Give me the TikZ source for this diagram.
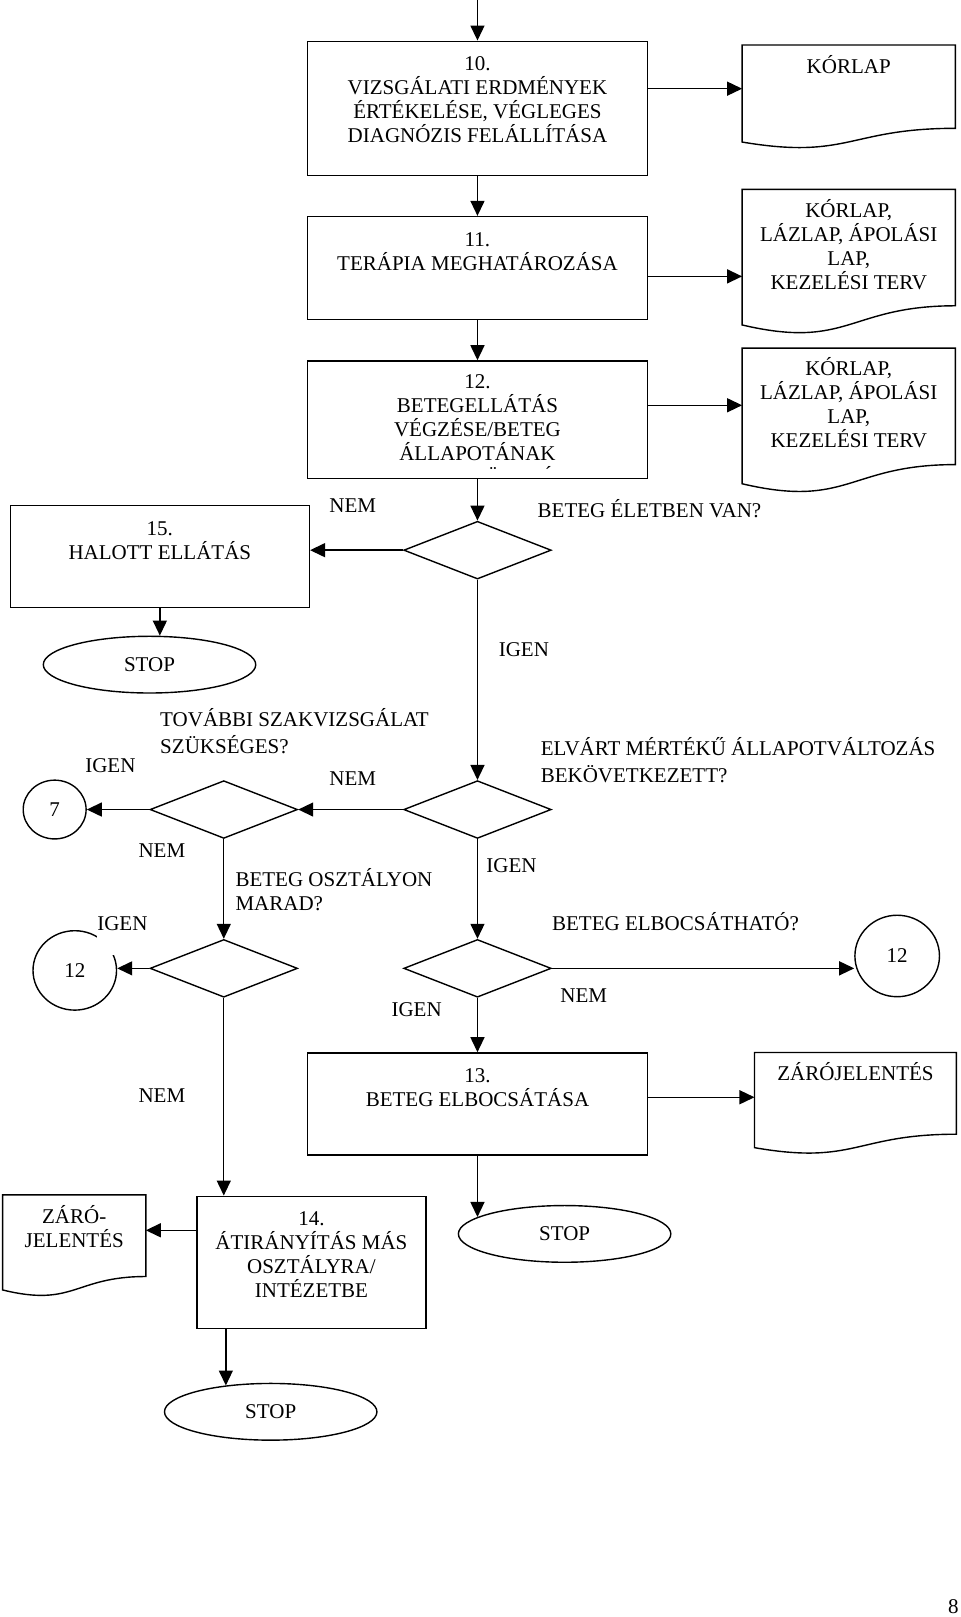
\documentclass[tikz,border=0pt]{standalone}
\usepackage{fontspec}
\setmainfont{Liberation Serif}
\usetikzlibrary{arrows.meta,shapes.geometric,positioning,fit,calc}

\newcommand{\pxu}{0.5156pt}
\newcommand{\docoutline}[1]{%
  \draw[flowline] (#1.north west) -- (#1.north east)
    -- ($(#1.north east)!0.802!(#1.south east)$)
    .. controls ($(#1.north)!0.802!(#1.south)$) and ($(#1.north)!1.107!(#1.south)$)
    .. ($(#1.north west)!0.934!(#1.south west)$) -- cycle;}

\tikzset{
  flowline/.style={line width=0.7pt},
  arr/.style={flowline, -{Triangle[length=7.5pt,width=7pt]}},
  proc/.style={draw, flowline, inner sep=0pt},
  docu/.style={inner sep=0pt},
  decision/.style={diamond, draw, flowline, inner sep=0pt, minimum width=143*\pxu, minimum height=56*\pxu},
  terminal/.style={ellipse, draw, flowline, inner sep=0pt, minimum width=206*\pxu, minimum height=55*\pxu},
  connector/.style={ellipse, draw, flowline, inner sep=0pt},
  boxtext/.style={align=center, inner sep=0pt},
  lbl/.style={inner sep=0pt, text height=7pt, text depth=0pt},
  qlbl/.style={align=left, inner sep=0pt, anchor=north west},
}

\begin{document}
\begin{tikzpicture}[x=\pxu, y=-\pxu, font=\fontsize{10.5}{12}\selectfont]
\useasboundingbox (0,0) rectangle (931,1568);

% process boxes
\node[proc, fit={(298,40) (628,170)}] (b10) {};
\node[boxtext, below=7.8pt of b10.north] (t10) {10.\\VIZSGÁLATI ERDMÉNYEK\\ÉRTÉKELÉSE, VÉGLEGES\\DIAGNÓZIS FELÁLLÍTÁSA};
\node[proc, fit={(298,210) (628,310)}] (b11) {};
\node[boxtext, below=8.2pt of b11.north] (t11) {11.\\TERÁPIA MEGHATÁROZÁSA};
\node[proc, fit={(298,350) (628,464)}] (b12) {};
\begin{scope}
  \clip (b12.north west) rectangle ([yshift=5.4pt]b12.south east);
  \node[boxtext, below=6.8pt of b12.north] (t12) {12.\\BETEGELLÁTÁS\\VÉGZÉSE/BETEG\\ÁLLAPOTÁNAK\\NYOMONKÖVETÉSE};
\end{scope}
\node[proc, fit={(10,490) (300,589)}] (b15) {};
\node[boxtext, below=8.2pt of b15.north] (t15) {15.\\HALOTT ELLÁTÁS};
\node[proc, fit={(298,1021) (628,1120)}] (b13) {};
\node[boxtext, below=8.2pt of b13.north] (t13) {13.\\BETEG ELBOCSÁTÁSA};
\node[proc, fit={(191,1160) (413,1288)}] (b14) {};
\node[boxtext, below=7.8pt of b14.north] (t14) {14.\\ÁTIRÁNYÍTÁS MÁS\\OSZTÁLYRA/\\INTÉZETBE};

% documents
\node[docu, fit={(720,44) (926,144)}] (d1) {};
\docoutline{d1}
\node[boxtext, below=5.1pt of d1.north] (td1) {KÓRLAP};
\node[docu, fit={(720,184) (926,324)}] (d2) {};
\docoutline{d2}
\node[boxtext, below=5pt of d2.north] (td2) {KÓRLAP,\\LÁZLAP, ÁPOLÁSI\\LAP,\\KEZELÉSI TERV};
\node[docu, fit={(720,338) (926,478)}] (d3) {};
\docoutline{d3}
\node[boxtext, below=4.4pt of d3.north] (td3) {KÓRLAP,\\LÁZLAP, ÁPOLÁSI\\LAP,\\KEZELÉSI TERV};
\node[docu, fit={(732,1021) (927,1119)}] (d5) {};
\docoutline{d5}
\node[boxtext, below=5pt of d5.north] (td5) {ZÁRÓJELENTÉS};
\node[docu, fit={(3,1159) (141,1257)}] (d4) {};
\docoutline{d4}
\node[boxtext, below=5pt of d4.north] (td4) {ZÁRÓ-\\JELENTÉS};

% decisions
\node[decision] (D1) at (463,533.5) {};
\node[decision] (D2) at (463,785) {};
\node[decision] (D3) at (217,785) {};
\node[decision] (D4) at (217,939) {};
\node[decision] (D5) at (463,939) {};

% terminals and connectors
\node[terminal] (stop1) at (145,644.5) {STOP};
\node[terminal] (stop2) at (547.5,1196.5) {STOP};
\node[terminal] (stop3) at (262.5,1369) {STOP};
\node[connector, minimum width=61*\pxu, minimum height=57*\pxu] (c7) at (53,785) {7};
\node[connector, minimum width=81*\pxu, minimum height=77*\pxu] (c12a) at (72.5,941) {12};
\node[connector, minimum width=82*\pxu, minimum height=79*\pxu] (c12b) at (870,927) {12};

% flow
\coordinate (entry) at (463,0);
\draw[arr] (entry) -- (b10);
\draw[arr] (b10) -- (b11);
\draw[arr] (b11) -- (b12);
\draw[arr] (b12) -- (D1);
\draw[arr] (b10.east |- 0,86) -- (d1.west |- 0,86);
\draw[arr] (b11.east |- 0,268) -- (d2.west |- 0,268);
\draw[arr] (b12.east |- 0,393) -- (d3.west |- 0,393);
\draw[arr] (D1) -- (b15.east |- D1);
\draw[arr] (b15.south) -- (b15.south |- stop1.north);
\draw[arr] (D1) -- (D2);
\draw[arr] (D2) -- (D3);
\draw[arr] (D3) -- (c7);
\draw[arr] (D3) -- (D4);
\draw[arr] (D4.west) -- (c12a.east |- D4.west);
\draw[arr] (D2) -- (D5);
\draw[arr] (D5.east) -- (c12b.west |- D5.east);
\draw[arr] (D5) -- (b13);
\draw[arr] (b13.east |- 0,1064) -- (d5.west |- 0,1064);
\draw[arr] (b13) -- (b13 |- stop2.169);
\draw[arr] (D4) -- (D4 |- b14.north);
\draw[arr] (b14.west |- 0,1193) -- (d4.east |- 0,1193);
\draw[arr] (b14.south -| 219,0) -- (stop3.150 -| 219,0);

% labels
\node[lbl] (nem1) at (342,490) {NEM};
\node[lbl, anchor=west] (q1) at (521,495) {BETEG ÉLETBEN VAN?};
\node[lbl] (igen1) at (508,630) {IGEN};
\node[qlbl] (q2) at (155,686.5) {TOVÁBBI SZAKVIZSGÁLAT\\[1.4pt]SZÜKSÉGES?};
\node[lbl] (igen2) at (107,742) {IGEN};
\node[lbl] (nem2) at (342,755) {NEM};
\node[qlbl] (q3) at (524,715) {ELVÁRT MÉRTÉKŰ ÁLLAPOTVÁLTOZÁS\\[1.4pt]BEKÖVETKEZETT?};
\node[lbl] (nem3) at (157,824.5) {NEM};
\node[qlbl] (q4) at (228,841.5) {BETEG OSZTÁLYON\\MARAD?};
\node[lbl, fill=white, text depth=12pt, anchor=base west] (igen3) at (94,902.3) {IGEN};
\node[lbl] (igen4) at (496,839) {IGEN};
\node[lbl, anchor=west] (q5) at (535,895.5) {BETEG ELBOCSÁTHATÓ?};
\node[lbl] (nem4) at (566,965) {NEM};
\node[lbl] (igen5) at (404,979) {IGEN};
\node[lbl] (nem5) at (157,1062) {NEM};
\node[lbl, anchor=base east] (pageno) at (930,1565) {8};
\end{tikzpicture}
\end{document}
